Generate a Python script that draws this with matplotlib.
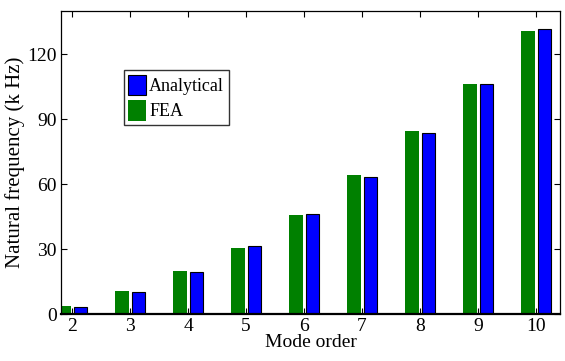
import numpy as np
import matplotlib
matplotlib.use("Agg")
import matplotlib.pyplot as plt

modes = [2, 3, 4, 5, 6, 7, 8, 9, 10]
fea = [3.8, 10.6, 19.9, 30.5, 45.7, 64.2, 84.6, 106.3, 130.8]
analytical = [3.4, 10.0, 19.3, 31.6, 46.3, 63.5, 83.8, 106.1, 131.5]
yticks = [0, 30, 60, 90, 120]

plt.rcParams["font.family"] = ["Liberation Serif", "DejaVu Serif"]

fig = plt.figure(figsize=(5.65, 3.61), dpi=100)
ax = fig.add_axes([0.108, 0.130, 0.883, 0.8395])

x = np.array(modes, dtype=float)
w = 0.235
ax.bar(x - 0.135, fea, width=w, color="#008000", edgecolor="none",
       label="FEA", zorder=2)
ax.bar(x + 0.145, analytical, width=w, color="#0000ff", edgecolor="black",
       linewidth=0.8, label="Analytical", zorder=2)

ax.set_xlim(1.81, 10.41)
ax.set_ylim(0, 140)
ax.set_xticks(modes)
ax.set_yticks(yticks)
ax.tick_params(direction="in", top=True, right=True, length=4,
               width=0.8, labelsize=14, pad=3)
for s in ax.spines.values():
    s.set_linewidth(0.9)
ax.spines["bottom"].set_linewidth(1.6)

ax.set_xlabel("Mode order", fontsize=14, labelpad=-1)
ax.set_ylabel("Natural frequency (k Hz)", fontsize=15, labelpad=2)

# legend lists Analytical first
h, l = ax.get_legend_handles_labels()
leg = ax.legend(h[::-1], l[::-1], loc="upper left",
                bbox_to_anchor=(0.126, 0.805), fontsize=13,
                frameon=True, fancybox=False, edgecolor="black",
                borderaxespad=0, borderpad=0.25, handlelength=1.0,
                handleheight=1.4, handletextpad=0.15, labelspacing=0.25)
leg.get_frame().set_linewidth(1.0)

fig.savefig("out.png", dpi=100)
